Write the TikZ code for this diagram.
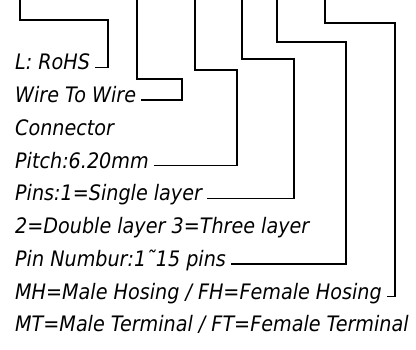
\documentclass[tikz,border=0pt]{standalone}
\usepackage{fontspec}
\setmainfont{DejaVu Sans Condensed}
\usepackage{tikz}
\usetikzlibrary{positioning}
\tikzstyle{line} = [draw, line width=1.5pt]
\tikzstyle{code} = [inner xsep=5pt, inner ysep=0pt, anchor=base west, font=\fontsize{21.3}{24}\selectfont\itshape]

\begin{document}
\begin{tikzpicture}[x=1pt, y=-1pt, node distance=32.75pt]
        \useasboundingbox (0,0) rectangle (416,350);
        % text rows
        \node[code] (rohs) at (10,70) {L: RoHS};
        \node[code, below=of rohs.base west, anchor=base west] (wire) {Wire To Wire};
        \node[code, below=of wire.base west, anchor=base west] (conn) {Connector};
        \node[code, below=of conn.base west, anchor=base west] (pitch) {Pitch:6.20mm};
        \node[code, below=of pitch.base west, anchor=base west] (pins) {Pins:1=Single layer};
        \node[code, below=of pins.base west, anchor=base west] (layer) {2=Double layer 3=Three layer};
        \node[code, below=of layer.base west, anchor=base west] (numbur) {Pin Numbur:1˜15 pins};
        \node[code, below=of numbur.base west, anchor=base west] (hosing) {MH=Male Hosing / FH=Female Hosing};
        \node[code, below=of hosing.base west, anchor=base west] (term) {MT=Male Terminal / FT=Female Terminal};
        % free ends at the top
        \coordinate (t1) at (20,0);
        \coordinate (t2) at (137,0);
        \coordinate (t3) at (195,0);
        \coordinate (t4) at (242,0);
        \coordinate (t5) at (277,0);
        \coordinate (t6) at (325,0);
        \path[line] (t1) |- (108,20) |- (rohs.mid east);
        \path[line] (t2) |- (182,79) |- (wire.mid east);
        \path[line] (t3) |- (237,70) |- (pitch.mid east);
        \path[line] (t4) |- (294,59) |- (pins.mid east);
        \path[line] (t5) |- (346,42) |- (numbur.mid east);
        \path[line] (t6) |- (395,23) |- (hosing.mid east);
    \end{tikzpicture}
\end{document}
